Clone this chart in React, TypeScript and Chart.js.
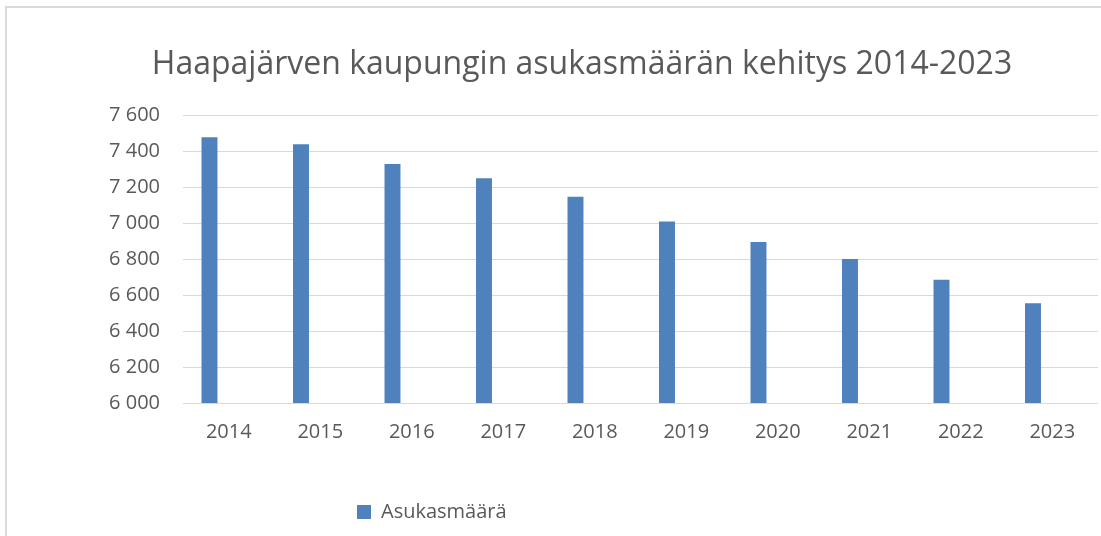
import React, { useEffect, useRef } from "react";
import { Chart, registerables } from "chart.js";

Chart.register(...registerables);

const TITLE = "Haapajärven kaupungin asukasmäärän kehitys 2014-2023";
const SERIES_LABEL = "Asukasmäärä";
const categories = ["2014", "2015", "2016", "2017", "2018", "2019", "2020", "2021", "2022", "2023"];
const population = [7476, 7437, 7328, 7248, 7146, 7009, 6894, 6800, 6685, 6554];
const emptySeries = [null, null, null, null, null, null, null, null, null, null];
const Y_MIN = 6000;
const Y_MAX = 7600;
const Y_STEP = 200;

const FONT = "'Open Sans', 'Noto Sans', sans-serif";
const TEXT_COLOR = "#595959";
const BAR_COLOR = "#4F81BD";
const GRID_COLOR = "#d9d9d9";

const fmt = (v: number) => String(v).replace(/\B(?=(\d{3})+(?!\d))/g, " ");

const placePlugin = {
  id: "place",
  afterLayout(chart: any) {
    const t = chart.titleBlock;
    if (t) {
      t.left += 33;
      t.right += 33;
    }
    const l = chart.legend;
    if (l) {
      const h = l.height;
      const w = l.width;
      l.left = 347;
      l.right = 347 + w;
      l.top = 492;
      l.bottom = 492 + h;
    }
  },
};

export default function App() {
  const ref = useRef<HTMLCanvasElement | null>(null);

  useEffect(() => {
    if (!ref.current) return;
    const chart = new Chart(ref.current, {
      type: "bar",
      data: {
        labels: categories,
        datasets: [
          {
            label: SERIES_LABEL,
            data: population,
            backgroundColor: BAR_COLOR,
            borderWidth: 0,
            categoryPercentage: 0.842,
            barPercentage: 0.414,
          },
          {
            label: "",
            data: emptySeries as any,
            backgroundColor: "rgba(0,0,0,0)",
            borderWidth: 0,
            categoryPercentage: 0.842,
            barPercentage: 0.414,
          },
        ],
      },
      options: {
        responsive: false,
        animation: false,
        layout: { padding: { left: 0, right: 3, top: 0, bottom: 52 } },
        plugins: {
          tooltip: { enabled: false },
          title: {
            display: true,
            text: TITLE,
            color: TEXT_COLOR,
            font: { family: FONT, size: 32, weight: "normal" },
            padding: { top: 46, bottom: 30.6 },
          },
          legend: {
            display: true,
            position: "bottom",
            align: "start",
            labels: {
              color: TEXT_COLOR,
              font: { family: FONT, size: 20 },
              boxWidth: 14,
              boxHeight: 14,
              padding: 10,
              filter: (item: any) => item.datasetIndex === 0,
            },
          },
        },
        scales: {
          x: {
            grid: { display: false, drawTicks: false },
            border: { display: false },
            ticks: {
              color: TEXT_COLOR,
              font: { family: FONT, size: 20 },
              padding: 17,
              maxRotation: 0,
            },
            afterFit: (s: any) => {
              s.height = 41;
            },
          },
          y: {
            min: Y_MIN,
            max: Y_MAX,
            grid: { color: GRID_COLOR, lineWidth: 1, drawTicks: false },
            border: { display: false },
            ticks: {
              stepSize: Y_STEP,
              color: TEXT_COLOR,
              font: { family: FONT, size: 20 },
              padding: 23,
              callback: (v: any) => fmt(Number(v)),
            },
            afterFit: (s: any) => {
              s.width = 183;
            },
          },
        },
      },
      plugins: [placePlugin],
    });
    return () => chart.destroy();
  }, []);

  return (
    <div
      style={{
        position: "absolute",
        left: 0,
        top: 0,
        width: 1101,
        height: 536,
        overflow: "hidden",
        background: "#fff",
      }}
    >
      <div
        style={{
          position: "absolute",
          left: 5,
          top: 6,
          width: 1200,
          height: 700,
          border: "2px solid #d9d9d9",
        }}
      />
      <canvas
        ref={ref}
        width={1101}
        height={536}
        style={{ position: "absolute", left: 0, top: 0, width: 1101, height: 536 }}
      />
    </div>
  );
}
